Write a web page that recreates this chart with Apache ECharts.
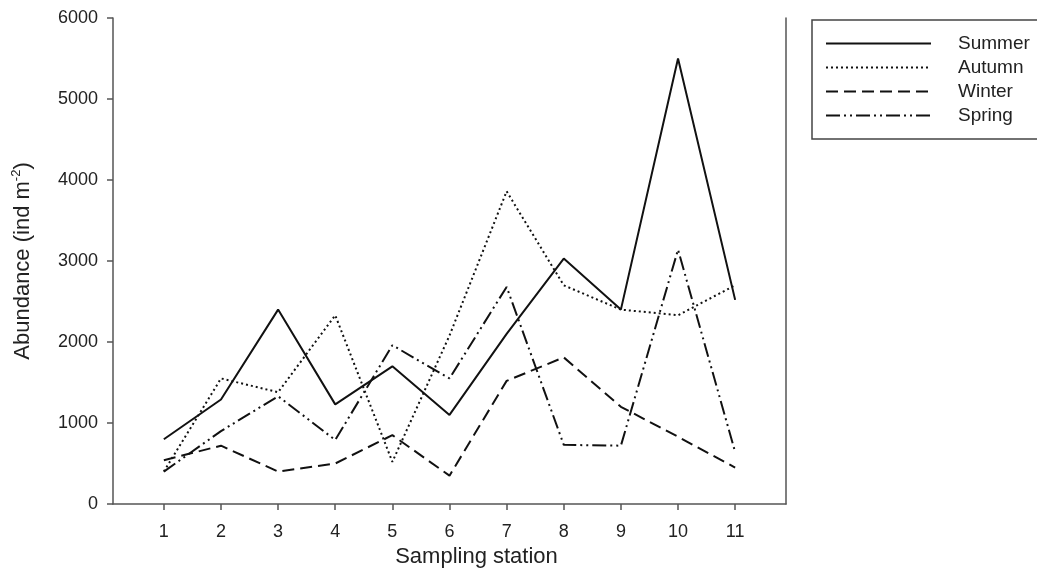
<!DOCTYPE html>
<html>
<head>
<meta charset="utf-8">
<script src="https://cdn.jsdelivr.net/npm/echarts@6/dist/echarts.min.js"></script>
<style>
  html, body { margin: 0; padding: 0; background: #fff; }
  #chart { width: 1037px; height: 575px; }
</style>
</head>
<body>
<div id="chart"></div>
<script>
// sampling stations along the x axis
const stations = [1, 2, 3, 4, 5, 6, 7, 8, 9, 10, 11];

// abundance (ind m^-2) per season
const summer = [800, 1290, 2400, 1230, 1700, 1100, 2100, 3030, 2400, 5500, 2520];
const autumn = [400, 1550, 1380, 2330, 520, 2080, 3860, 2700, 2400, 2330, 2700];
const winter = [540, 720, 400, 500, 850, 350, 1520, 1810, 1200, 830, 450];
const spring = [400, 900, 1330, 790, 1960, 1550, 2680, 730, 720, 3140, 640];

const FONT = '"Liberation Sans", Arial, sans-serif';
const AXIS = '#555';
const INK = '#111';

const chart = echarts.init(document.getElementById('chart'));

const pairs = (values) => stations.map((s, i) => [s, values[i]]);

const buildSeries = (name, values, dash) => ({
  name,
  type: 'line',
  data: pairs(values),
  symbol: 'none',
  silent: true,
  animation: false,
  lineStyle: { color: INK, width: 2, type: dash },
  itemStyle: { color: INK },
});

chart.setOption({
  animation: false,
  textStyle: { fontFamily: FONT },
  grid: { left: 113, right: 251, top: 18, bottom: 71 },
  legend: {
    left: 812,
    top: 20,
    orient: 'vertical',
    itemWidth: 105,
    itemHeight: 14,
    itemGap: 5,
    padding: [14, 30, 14, 13],
    borderColor: '#444',
    borderWidth: 1.5,
    selectedMode: false,
    itemStyle: { opacity: 0 },
    textStyle: { fontSize: 19, color: '#222', padding: [0, 0, 0, 22] },
    data: ['Summer', 'Autumn', 'Winter', 'Spring'],
  },
  xAxis: {
    type: 'value',
    min: 0.11,
    max: 11.89,
    name: 'Sampling station',
    nameLocation: 'middle',
    nameGap: 39,
    nameTextStyle: { fontSize: 22, color: '#222', padding: [0, 0, 0, 54] },
    axisLine: { show: true, onZero: false, lineStyle: { color: AXIS, width: 1.5 } },
    axisTick: { show: true, length: 6, customValues: stations, lineStyle: { color: AXIS, width: 1.5 } },
    axisLabel: { fontSize: 18, color: '#222', margin: 19, customValues: stations },
    splitLine: { show: false },
  },
  yAxis: [
    {
      type: 'value',
      min: 0,
      max: 6000,
      interval: 1000,
      name: '{a|Abundance (ind m}{s|-2}{a|)}',
      nameLocation: 'middle',
      nameRotate: 90,
      nameGap: 78,
      nameTextStyle: {
        rich: {
          a: { fontSize: 22, color: '#222', fontFamily: FONT },
          s: { fontSize: 13, color: '#222', fontFamily: FONT, padding: [0, 0, 12, 0] },
        },
      },
      axisLine: { show: true, onZero: false, lineStyle: { color: AXIS, width: 1.5 } },
      axisTick: { show: true, length: 6, lineStyle: { color: AXIS, width: 1.5 } },
      axisLabel: { fontSize: 18, color: '#222', margin: 15, formatter: (v) => String(v) },
      splitLine: { show: false },
    },
    {
      type: 'value',
      min: 0,
      max: 6000,
      position: 'right',
      axisLine: { show: true, onZero: false, lineStyle: { color: AXIS, width: 1.5 } },
      axisTick: { show: false },
      axisLabel: { show: false },
      splitLine: { show: false },
    },
  ],
  series: [
    buildSeries('Summer', summer, 'solid'),
    buildSeries('Autumn', autumn, [2, 3]),
    buildSeries('Winter', winter, [12, 6]),
    buildSeries('Spring', spring, [14, 4, 2, 4, 2, 4]),
  ],
});
</script>
</body>
</html>
